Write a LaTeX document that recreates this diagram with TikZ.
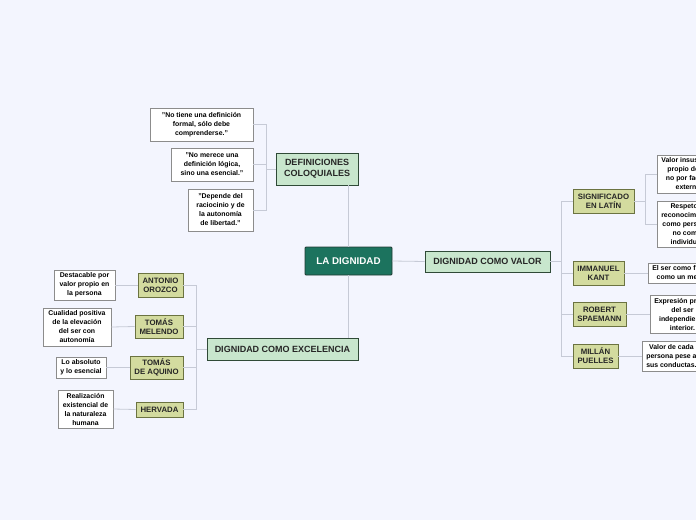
\documentclass[tikz,border=0pt]{standalone}
\usepackage{fontspec}
\setmainfont{Liberation Sans}
\usepackage{tikz}

\definecolor{bgblue}{HTML}{F3F5FE}
\definecolor{linkgray}{HTML}{C6CAD6}
\definecolor{rootfill}{HTML}{1C735E}
\definecolor{rootline}{HTML}{213A33}
\definecolor{topicfill}{HTML}{C8E6CD}
\definecolor{topicline}{HTML}{2F4A37}
\definecolor{authfill}{HTML}{D3DB9F}
\definecolor{authline}{HTML}{6B7341}
\definecolor{leafline}{HTML}{8C8C8C}

\tikzset{
  link/.style={draw=linkgray, line width=0.8pt},
  rootbox/.style={draw=rootline, fill=rootfill, text=white, line width=0.9pt, rounded corners=1pt, align=center, inner sep=1pt, font=\fontsize{9.8}{11}\selectfont\bfseries},
  topicbox/.style={draw=topicline, fill=topicfill, text=black!85, line width=0.8pt, align=center, inner sep=1pt, font=\fontsize{9}{11}\selectfont\bfseries},
  authbox/.style={draw=authline, fill=authfill, text=black!85, line width=0.7pt, align=center, inner sep=1pt, font=\fontsize{7.8}{9}\selectfont\bfseries},
  leafbox/.style={draw=leafline, fill=white, text=black, line width=0.6pt, align=center, inner sep=1pt, font=\fontsize{6.9}{9}\selectfont\bfseries},
  edgeleaf/.style={leafbox, anchor=west, inner xsep=4pt}
}

\begin{document}
\begin{tikzpicture}[x=1pt,y=1pt,yscale=-1,xscale=1]
\useasboundingbox (0,0) rectangle (696,520);
\fill[bgblue] (0,0) rectangle (696,520);
\clip (0,0) rectangle (696,520);

% Root Node
\node[rootbox, minimum width=87pt, minimum height=28pt] (root) at (348.5,261) {LA DIGNIDAD};

% Topic Nodes
\node[topicbox, minimum width=82pt, minimum height=32pt] (defin) at (317,169) {DEFINICIONES\\COLOQUIALES};
\node[topicbox, minimum width=125pt, minimum height=21pt] (valor) at (487.5,261.5) {DIGNIDAD COMO VALOR};
\node[topicbox, minimum width=151pt, minimum height=22pt] (excel) at (282.5,349) {DIGNIDAD COMO EXCELENCIA};

% Text Node
\node[leafbox, minimum width=103pt, minimum height=33pt] (quoteA) at (201.5,124.5) {"No tiene una definición\\formal, sólo debe\\comprenderse."};
% Text Node
\node[leafbox, minimum width=82pt, minimum height=33pt] (quoteB) at (212,164.5) {"No merece una\\definición lógica,\\sino una esencial."};
% Text Node
\node[leafbox, minimum width=65pt, minimum height=42pt] (quoteC) at (220.5,210) {"Depende del\\raciocinio y de\\la autonomía\\de libertad."};

% Author Nodes (right)
\node[authbox, minimum width=61pt, minimum height=24pt] (latin) at (603.5,201) {SIGNIFICADO\\EN LATÍN};
\node[authbox, minimum width=51pt, minimum height=24pt] (kant) at (598.5,273) {IMMANUEL\\KANT};
\node[authbox, minimum width=53pt, minimum height=24pt] (spaemann) at (599.5,314) {ROBERT\\SPAEMANN};
\node[authbox, minimum width=45pt, minimum height=24pt] (puelles) at (595.5,356) {MILLÁN\\PUELLES};

% Text Node
\node[edgeleaf, minimum height=38pt] (latinA) at (657,174) {Valor insustituible\\propio del ser,\\no por factores\\externos.};
% Text Node
\node[edgeleaf, minimum height=46pt] (latinB) at (657,224) {Respeto y\\reconocimiento\\como persona,\\no como\\individuo.};
% Text Node
\node[edgeleaf, minimum height=20pt] (kantA) at (648,273) {El ser como fin, no\\como un medio.};
% Text Node
\node[edgeleaf, minimum height=38pt] (spaemannA) at (650,314) {Expresión propia\\del ser\\independiente\\interior.};
% Text Node
\node[edgeleaf, minimum height=30pt] (puellesA) at (642,356) {Valor de cada\\persona pese a\\sus conductas.};

% Author Nodes (left)
\node[authbox, minimum width=45pt, minimum height=24pt] (orozco) at (160.5,285) {ANTONIO\\OROZCO};
\node[authbox, minimum width=48pt, minimum height=23pt] (melendo) at (159,326.5) {TOMÁS\\MELENDO};
\node[authbox, minimum width=53pt, minimum height=23pt] (aquino) at (156.5,367.5) {TOMÁS\\DE AQUINO};
\node[authbox, minimum width=47pt, minimum height=15pt] (hervada) at (159.5,409.5) {HERVADA};

% Text Node
\node[leafbox, minimum width=61pt, minimum height=30pt] (orozcoA) at (84.5,285) {Destacable por\\valor propio en\\la persona};
% Text Node
\node[leafbox, minimum width=68pt, minimum height=38pt] (melendoA) at (77,327) {Cualidad positiva\\de la elevación\\del ser con\\autonomía};
% Text Node
\node[leafbox, minimum width=50pt, minimum height=21pt] (aquinoA) at (81,367.5) {Lo absoluto\\y lo esencial};
% Text Node
\node[leafbox, minimum width=55pt, minimum height=38pt] (hervadaA) at (85.5,409) {Realización\\existencial de\\la naturaleza\\humana};

% Bus Points
\coordinate (definBus) at (266,169);
\coordinate (valorBus) at (561,261.5);
\coordinate (latinBus) at (645,201);
\coordinate (excelBus) at (196,349);

%Straight Lines
\draw[link] (root.north) -- (root.north |- defin.south);
\draw[link] (root.south) -- (root.south |- excel.north);
\draw[link] (root.east) -- (valor.west);

\draw[link] (defin.west) -- (definBus);
\foreach \q in {quoteA,quoteB,quoteC}
  \draw[link] (definBus) |- (\q.east);

\draw[link] (valor.east) -- (valorBus);
\foreach \a in {latin,kant,spaemann,puelles}
  \draw[link] (valorBus) |- (\a.west);

\draw[link] (latin.east) -- (latinBus);
\draw[link] (latinBus) |- (latinA.west);
\draw[link] (latinBus) |- (latinB.west);
\draw[link] (kant.east) -- (kantA.west);
\draw[link] (spaemann.east) -- (spaemannA.west);
\draw[link] (puelles.east) -- (puellesA.west);

\draw[link] (excel.west) -- (excelBus);
\foreach \a in {orozco,melendo,aquino,hervada}
  \draw[link] (excelBus) |- (\a.east);

\draw[link] (orozco.west) -- (orozcoA.east);
\draw[link] (melendo.west) -- (melendoA.east);
\draw[link] (aquino.west) -- (aquinoA.east);
\draw[link] (hervada.west) -- (hervadaA.east);

\end{tikzpicture}
\end{document}
